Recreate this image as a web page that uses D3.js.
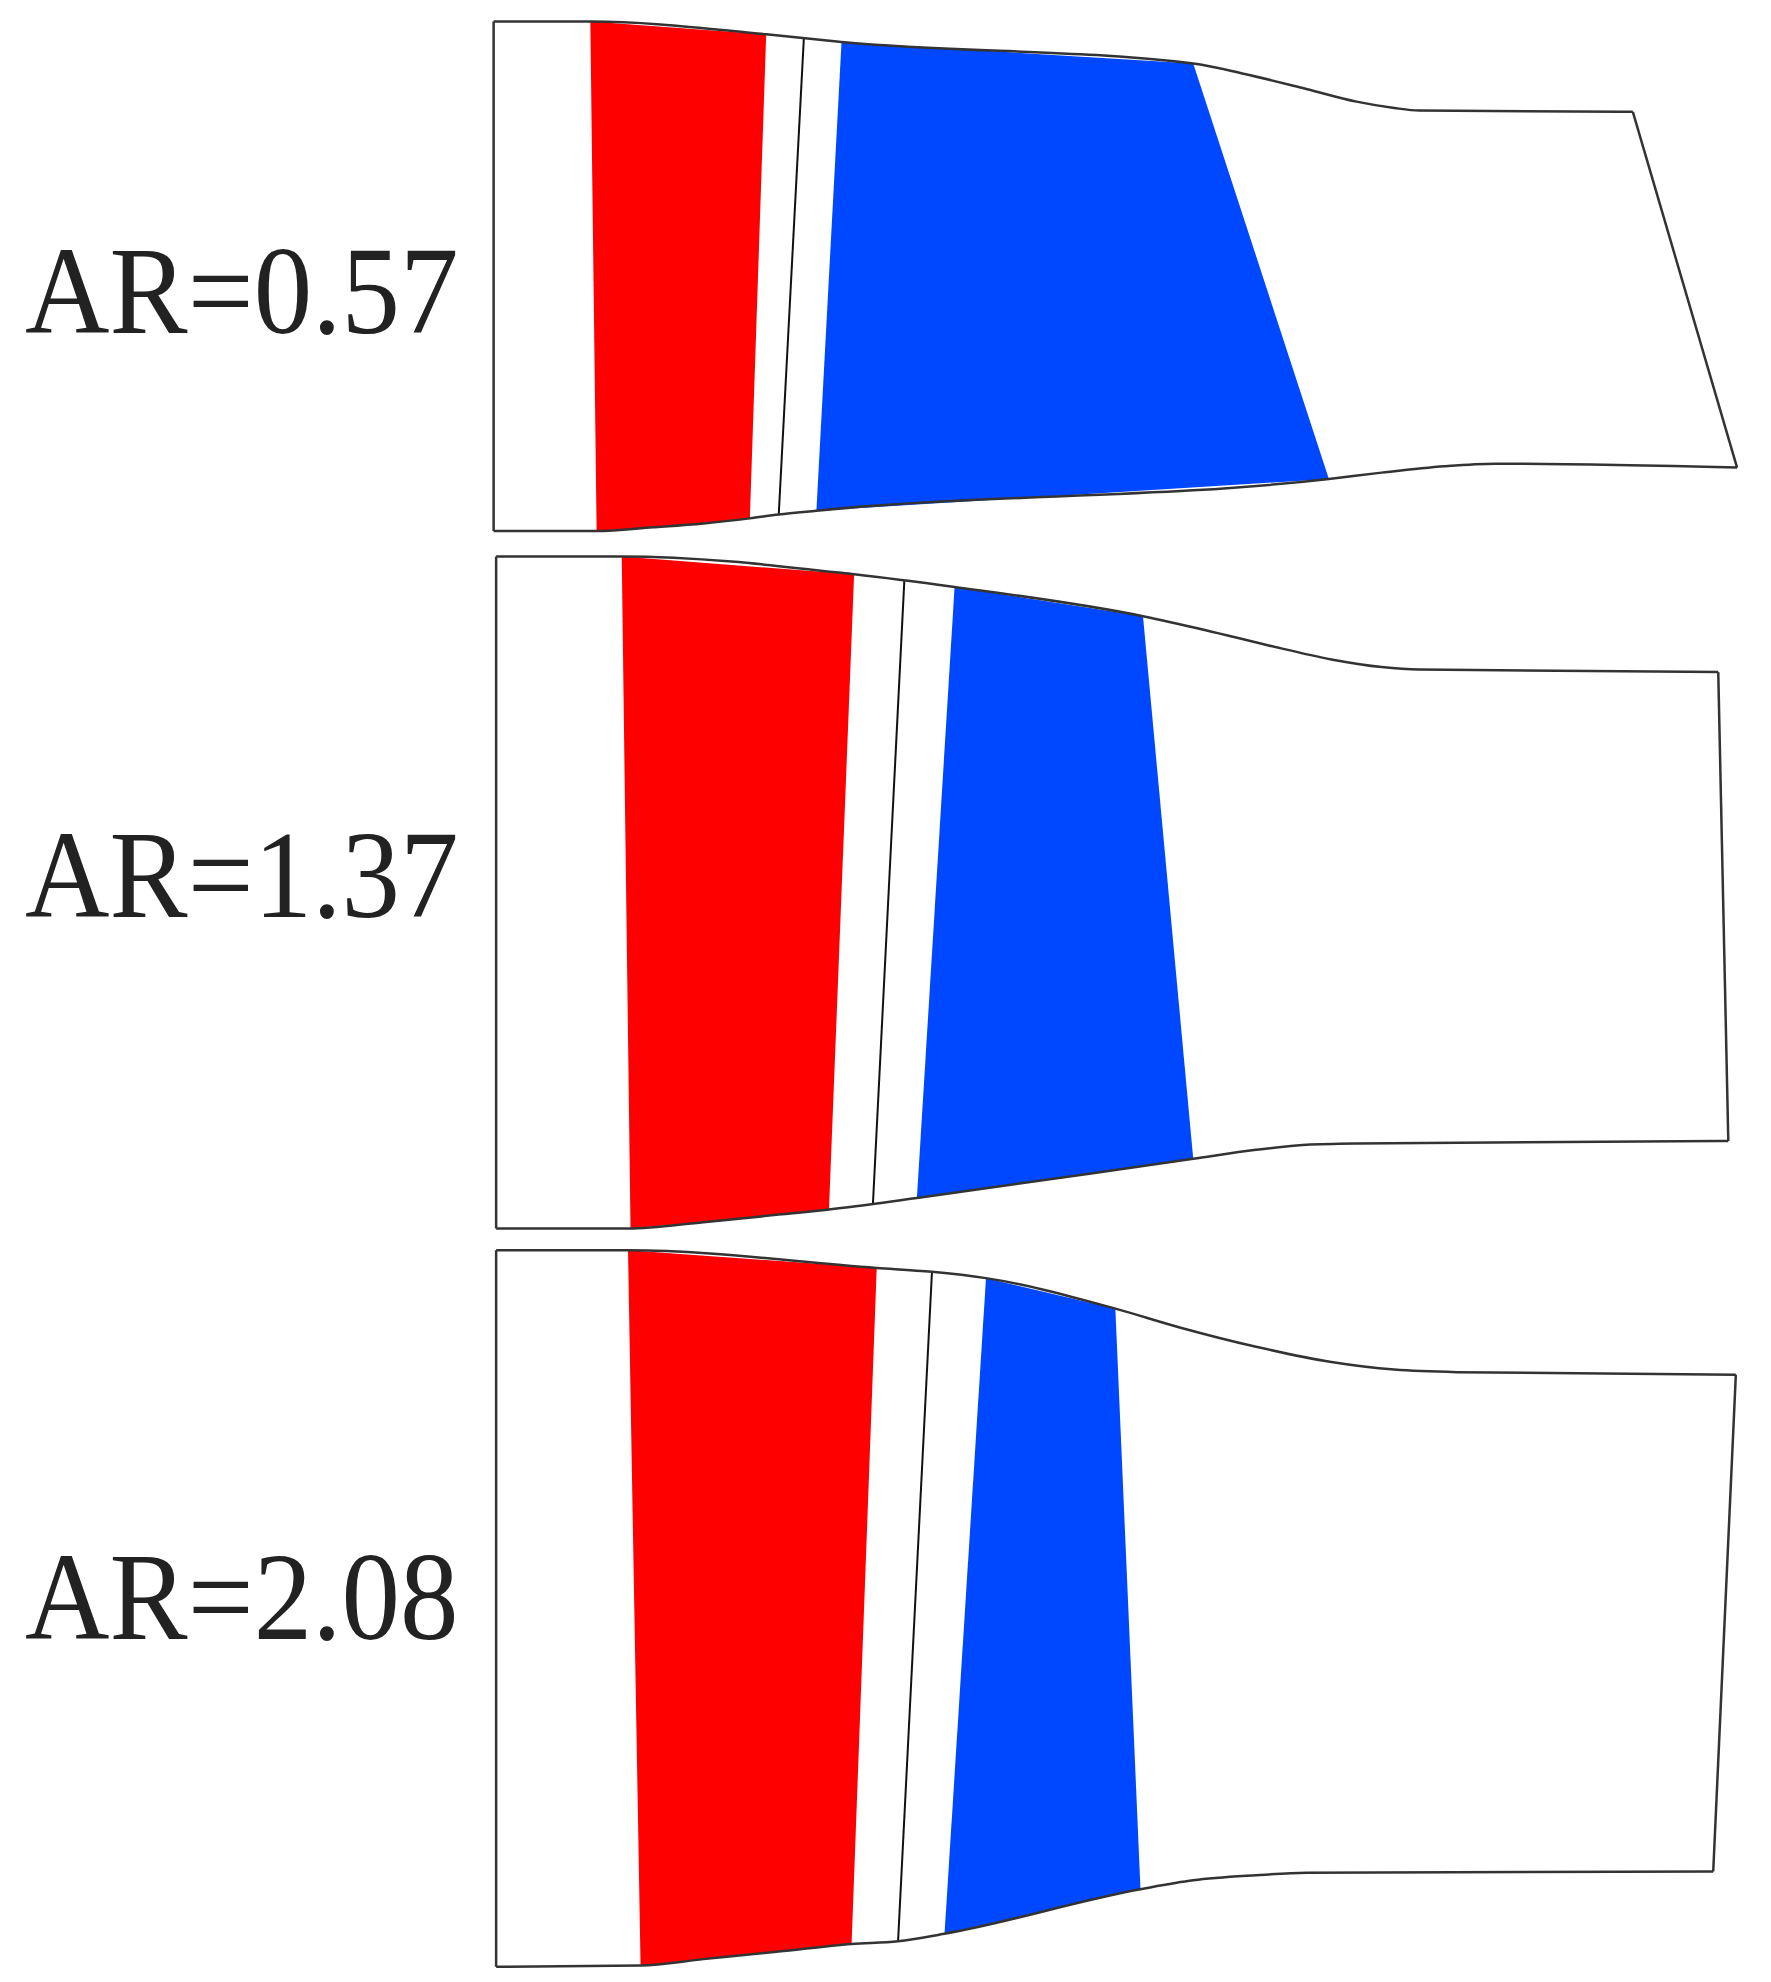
<!DOCTYPE html>
<html><head><meta charset="utf-8">
<script src="https://cdn.jsdelivr.net/npm/d3@7"></script>
<style>html,body{margin:0;background:#fff}</style></head>
<body><svg id="c" width="1771" height="1982"></svg>
<script>
const labels = ["AR=0.57","AR=1.37","AR=2.08"];
const labelBaseline = [262,722,1290];
const tops = [
 [[393,17],[470,17],[610,27],[670,33],[950,50],[990,58],[1040,70],[1080,80],[1110,85],[1130,87],[1300,88]],
 [[395,438],[495,438],[680,452],[760,462],[910,485],[960,496],[1010,508],[1060,519],[1100,525],[1130,527],[1368,529]],
 [[395,984],[500,984],[698,998],[742,1001],[785,1006],[888,1030],[940,1045],[1000,1060],[1060,1072],[1110,1078],[1160,1080],[1382,1082]]
];
const bottoms = [
 [[393,418],[475,418],[520,415],[560,412],[597,408],[620,405],[650,402],[1058,377],[1100,372],[1150,367],[1190,365],[1383,368]],
 [[395,967],[500,967],[560,962],[620,956],[660,952],[730,943],[950,912],[1000,905],[1040,901],[1080,900],[1376,898]],
 [[395,1548],[510,1547],[560,1542],[620,1536],[678,1530],[715,1528],[752,1522],[908,1487],[950,1480],[1000,1476],[1040,1474],[1364,1473]]
];
// bands: [topLeft, topRight, bottomLeft, bottomRight]
const redBands = [[470,610,475,597],[495,680,502,660],[500,698,510,678]];
const blueBands = [[670,950,650,1058],[760,910,730,950],[785,888,752,908]];
const sepLines = [[640,620],[720,695],[742,715]];

const sx = d3.scaleLinear().domain([0,1410]).range([0,1771]);
const sy = d3.scaleLinear().domain([0,1560]).range([0,1982]);
const svg = d3.select("#c");
const line = d3.line().x(d=>sx(d[0])).y(d=>sy(d[1]));
const curve = d3.line().x(d=>sx(d[0])).y(d=>sy(d[1])).curve(d3.curveMonotoneX);

function yAt(pts,x){
  for(let i=0;i<pts.length-1;i++){
    const a=pts[i],b=pts[i+1];
    if(x>=a[0]&&x<=b[0]){return a[1]+(b[1]-a[1])*(x-a[0])/(b[0]-a[0]);}
  }
  return x<pts[0][0]?pts[0][1]:pts[pts.length-1][1];
}
function seg(pts,x0,x1){
  const r=[[x0,yAt(pts,x0)]];
  pts.forEach(p=>{if(p[0]>x0&&p[0]<x1)r.push(p);});
  r.push([x1,yAt(pts,x1)]);
  return r;
}
function bandPoly(i,b){
  const t=seg(tops[i],b[0],b[1]);
  const bo=seg(bottoms[i],b[2],b[3]).reverse();
  return t.concat(bo);
}
const font='"Liberation Serif", Tinos, "Times New Roman", "Nimbus Roman", "DejaVu Serif", serif';

for(let i=0;i<3;i++){
  const g=svg.append("g");
  g.append("path").attr("d",line(bandPoly(i,redBands[i]))+"Z").attr("fill","#ff0000");
  g.append("path").attr("d",line(bandPoly(i,blueBands[i]))+"Z").attr("fill","#0048ff");
  const s=sepLines[i];
  g.append("path").attr("d",line([[s[0],yAt(tops[i],s[0])],[s[1],yAt(bottoms[i],s[1])]]))
   .attr("stroke","#111").attr("stroke-width",2).attr("fill","none");
  const t=tops[i], bo=bottoms[i];
  const st={stroke:"#333","stroke-width":2.5,fill:"none"};
  const add=d=>{const p=g.append("path").attr("d",d);Object.entries(st).forEach(([k,v])=>p.attr(k,v));};
  add(curve(t)); add(curve(bo));
  add(line([t[0],bo[0]])); add(line([t[t.length-1],bo[bo.length-1]]));
  g.append("text").attr("x",sx(20)).attr("y",sy(labelBaseline[i]))
   .style("font-family",font).attr("font-size",124)
   .attr("textLength",sx(345)).attr("lengthAdjust","spacingAndGlyphs")
   .attr("fill","#222").text(labels[i]);
}
</script></body></html>
